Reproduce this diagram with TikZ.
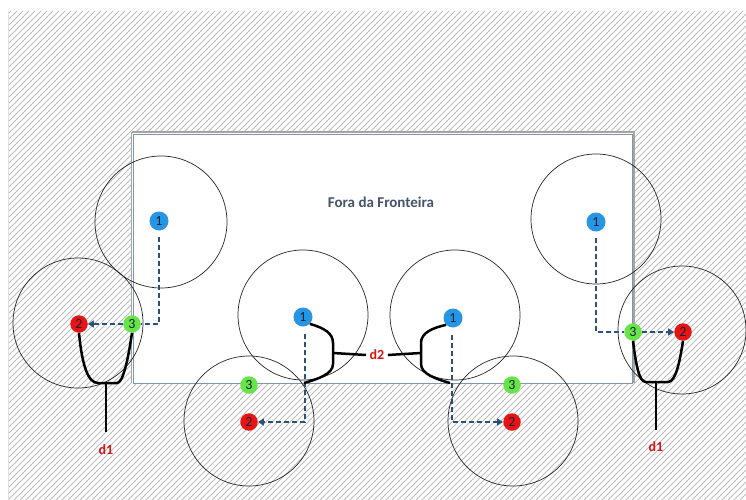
\documentclass[tikz,border=0pt]{standalone}
\usepackage{fontspec}
\setmainfont{Carlito}
\usetikzlibrary{arrows.meta}
\definecolor{nblue}{RGB}{38,150,228}
\definecolor{nred}{RGB}{232,20,20}
\definecolor{ngreen}{RGB}{102,228,72}
\definecolor{numtext}{RGB}{20,35,60}
\definecolor{dashcol}{RGB}{44,80,120}
\definecolor{titlecol}{RGB}{68,84,106}
\definecolor{hatchcol}{RGB}{190,190,190}
\definecolor{framegray}{RGB}{165,165,165}
\definecolor{framesteel}{RGB}{128,150,176}
\definecolor{lblred}{RGB}{220,20,20}
\begin{document}
\begin{tikzpicture}[x=1pt,y=-1pt,
  hatch/.style={draw=hatchcol,line width=0.75pt},
  ring/.style={draw=black!85,line width=0.7pt},
  pt/.style={circle,inner sep=0pt,minimum size=17.5pt,font=\fontsize{14}{14}\selectfont,text=numtext},
  pblue/.style={pt,fill=nblue,minimum size=19pt},
  pred/.style={pt,fill=nred},
  pgreen/.style={pt,fill=ngreen},
  dashline/.style={draw=dashcol,line width=2.3pt,dash pattern=on 5pt off 3pt},
  dasharrow/.style={dashline,-{Triangle[length=6pt,width=7pt]}},
  fork/.style={draw=black,line width=2.5pt},
  lbl/.style={font=\bfseries\fontsize{14}{14}\selectfont,text=lblred},
  title/.style={font=\bfseries\fontsize{15}{15}\selectfont,text=titlecol}]
\useasboundingbox (0,0) rectangle (746,500);
\fill[white] (0,0) rectangle (746,500);
% hatched outside
\begin{scope}
  \clip (8,11) rectangle (746,500);
  \foreach \k in {-490,-484,...,746} \draw[hatch] (\k,500) -- ++(489,-489);
\end{scope}
\draw[black!12,line width=1pt] (8,11) -- (8,500);
% inner area
\fill[white] (132,132) rectangle (633,383);
\draw[framegray,line width=2.5pt] (131.5,132) -- (634,132) -- (634,383);
\draw[framegray,line width=1.5pt] (131.5,132) -- (131.5,383);
\draw[framesteel,line width=1pt] (133,134.5) rectangle (632,383);
\node[title] (title) at (381,202) {Fora da Fronteira};
% range circles
\draw[ring] (161,222) circle (66pt);
\draw[ring] (78,323) circle (65pt);
\draw[ring] (303,315) circle (65pt);
\draw[ring] (249,421) circle (65pt);
\draw[ring] (455,315) circle (65pt);
\draw[ring] (513,421) circle (65pt);
\draw[ring] (596,219) circle (65pt);
\draw[ring] (682,330) circle (64pt);
% nodes
\node[pblue] (L1) at (159,221) {1};
\node[pred] (L2) at (79,324) {2};
\node[pgreen] (L3) at (132,324) {3};
\node[pblue] (M1) at (303,317) {1};
\node[pgreen] (M3) at (249,385) {3};
\node[pred] (M2) at (249,422) {2};
\node[pblue] (N1) at (453,318) {1};
\node[pgreen] (N3) at (512,385) {3};
\node[pred] (N2) at (512,422) {2};
\node[pblue] (R1) at (596,222) {1};
\node[pgreen] (R3) at (633,332) {3};
\node[pred] (R2) at (683,332) {2};
% labels
\node[lbl] (dL) at (106,450) {d1};
\node[lbl] (dR) at (656,447) {d1};
\node[lbl] (dM) at (377,355) {d2};
% dashed paths
\draw[dashline] (L1.south) ++(0,6) |- (L3.east);
\draw[dasharrow] (L3.west) -- (L2.east);
\draw[dasharrow] (M1.south) ++(2,7) |- (M2.east);
\draw[dasharrow] (N1.south) ++(-1,7) |- (N2.west);
\draw[dashline] (R1.south) ++(0,6) |- (R3.west);
\draw[dasharrow] (R3.east) -- (R2.west);
% forks
\coordinate (Ljoin) at (106,383);
\coordinate (Lend) at (106,432);
\draw[fork] (L2.south) .. controls (82,365) and (88,383) .. (98,383) -- (117,383) .. controls (123,383) and (128,360) .. (L3.south);
\draw[fork] (Ljoin) -- (Lend);
\coordinate (Rjoin) at (656,382);
\coordinate (Rend) at (656,430);
\draw[fork] (R3.south) .. controls (636,365) and (639,382) .. (646,382) -- (668,382) .. controls (676,382) and (680,360) .. (R2.south);
\draw[fork] (Rjoin) -- (Rend);
\coordinate (Mmid) at (333,353);
\coordinate (Mbot) at (304,383);
\coordinate (Nmid) at (421,353);
\coordinate (Nbot) at (450,383);
\draw[fork] (M1.south east) .. controls (324,328) and (333,333) .. (333,343) -- (333,364) .. controls (333,374) and (318,379) .. (Mbot);
\draw[fork] (Mmid) -- (dM.west);
\draw[fork] (N1.south west) .. controls (432,328) and (421,333) .. (421,343) -- (421,364) .. controls (421,374) and (436,379) .. (Nbot);
\draw[fork] (Nmid) -- (dM.east);
\end{tikzpicture}
\end{document}
